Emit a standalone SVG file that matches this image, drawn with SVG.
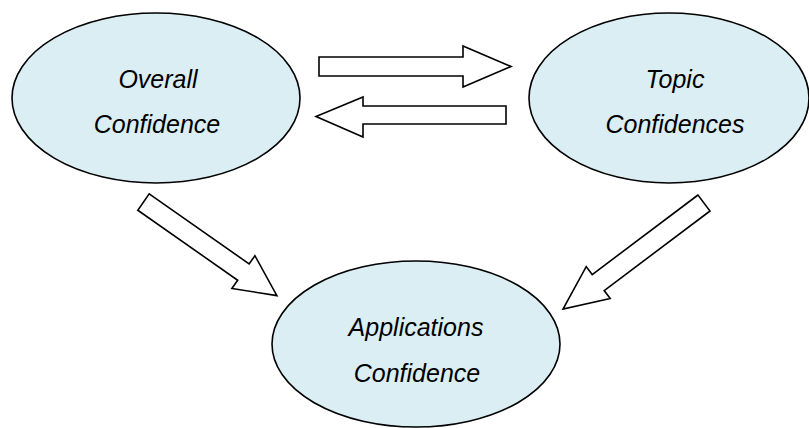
<svg xmlns="http://www.w3.org/2000/svg" width="809" height="428" viewBox="0 0 809 428">
  <style>
    .node { fill: #daeef3; stroke: #000; stroke-width: 1.6; }
    .label { font-family: "Liberation Sans", Arial, sans-serif; font-style: italic; font-size: 25px; fill: #000; text-anchor: middle; }
    .block { fill: #fff; stroke: #000; stroke-width: 1.6; stroke-linejoin: miter; }
  </style>
  <rect width="809" height="428" fill="#fff"/>

  <!-- block arrows between the confidences -->
  <g id="connectors">
    <polygon id="overall-to-topic" class="block" points="319,57 463,57 463,46 511,66.5 463,87 463,76 319,76"/>
    <polygon id="topic-to-overall" class="block" points="506,106 363,106 363,97 316,116.5 363,137 363,124 506,124"/>
    <polygon id="overall-to-applications" class="block" points="149.2,193.8 249.1,263.9 254.9,255.7 276.9,295.6 231.9,288.5 237.7,280.3 137.8,210.2"/>
    <polygon id="topic-to-applications" class="block" points="698,195 592.2,274.6 586.2,266.6 563,309 610.2,298.6 604.2,290.6 710,211"/>
  </g>

  <g id="overall">
    <ellipse class="node" cx="156" cy="98" rx="144" ry="85"/>
    <text class="label" x="158" y="88">Overall</text>
    <text class="label" x="157" y="133">Confidence</text>
  </g>

  <g id="topic">
    <ellipse class="node" cx="669" cy="98" rx="140" ry="85"/>
    <text class="label" x="675" y="88">Topic</text>
    <text class="label" x="675" y="133">Confidences</text>
  </g>

  <g id="applications">
    <ellipse class="node" cx="416" cy="344" rx="144" ry="83"/>
    <text class="label" x="416" y="336">Applications</text>
    <text class="label" x="417" y="382">Confidence</text>
  </g>
</svg>
